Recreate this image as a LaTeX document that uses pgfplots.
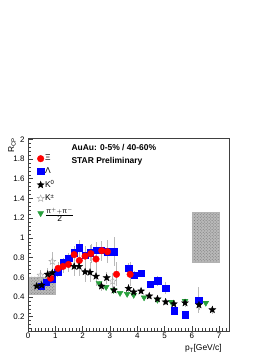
\documentclass[border=0pt]{standalone}
\usepackage{fontspec}
\setmainfont{Liberation Sans}
\usepackage{pgfplots}
\pgfplotsset{compat=1.18}
\usetikzlibrary{patterns}
\definecolor{rootgreen}{RGB}{40,160,60}
\definecolor{errgray}{RGB}{185,185,185}
\pgfdeclareplotmark{fstar}{%
  \pgfpathmoveto{\pgfpointpolar{90}{\pgfplotmarksize}}%
  \pgfpathlineto{\pgfpointpolar{126}{0.42\pgfplotmarksize}}%
  \pgfpathlineto{\pgfpointpolar{162}{\pgfplotmarksize}}%
  \pgfpathlineto{\pgfpointpolar{198}{0.42\pgfplotmarksize}}%
  \pgfpathlineto{\pgfpointpolar{234}{\pgfplotmarksize}}%
  \pgfpathlineto{\pgfpointpolar{270}{0.42\pgfplotmarksize}}%
  \pgfpathlineto{\pgfpointpolar{306}{\pgfplotmarksize}}%
  \pgfpathlineto{\pgfpointpolar{342}{0.42\pgfplotmarksize}}%
  \pgfpathlineto{\pgfpointpolar{18}{\pgfplotmarksize}}%
  \pgfpathlineto{\pgfpointpolar{54}{0.42\pgfplotmarksize}}%
  \pgfpathclose\pgfusepathqfillstroke}
\pgfdeclareplotmark{ostar}{%
  \pgfpathmoveto{\pgfpointpolar{90}{\pgfplotmarksize}}%
  \pgfpathlineto{\pgfpointpolar{126}{0.42\pgfplotmarksize}}%
  \pgfpathlineto{\pgfpointpolar{162}{\pgfplotmarksize}}%
  \pgfpathlineto{\pgfpointpolar{198}{0.42\pgfplotmarksize}}%
  \pgfpathlineto{\pgfpointpolar{234}{\pgfplotmarksize}}%
  \pgfpathlineto{\pgfpointpolar{270}{0.42\pgfplotmarksize}}%
  \pgfpathlineto{\pgfpointpolar{306}{\pgfplotmarksize}}%
  \pgfpathlineto{\pgfpointpolar{342}{0.42\pgfplotmarksize}}%
  \pgfpathlineto{\pgfpointpolar{18}{\pgfplotmarksize}}%
  \pgfpathlineto{\pgfpointpolar{54}{0.42\pgfplotmarksize}}%
  \pgfpathclose\pgfusepathqstroke}

\begin{document}
\begin{tikzpicture}
\useasboundingbox (0,0) rectangle (277bp,358bp);
\begin{axis}[
  at={(28bp,27bp)}, anchor=south west,
  scale only axis, width=201bp, height=193bp,
  xmin=0, xmax=7.36, ymin=0.055, ymax=2.013,
  xtick={0,1,2,3,4,5,6,7},
  ytick={0.2,0.4,0.6,0.8,1,1.2,1.4,1.6,1.8,2},
  minor xtick={0.125,0.25,...,7.3},
  minor ytick={0.08,0.12,...,2.0},
  tick align=inside, xtick pos=bottom, ytick pos=left,
  major tick length=5bp, minor tick length=2.5bp,
  axis line style={draw=black!75, line width=0.6pt},
  tick style={black!75, line width=0.5pt},
  ticklabel style={font=\fontsize{8}{9}\selectfont},
  xticklabel style={yshift=2bp},
  /pgf/number format/assume math mode=true,
  clip=false,
  legend style={at={(rel axis cs:0.045,0.918)}, anchor=north west, draw=none, fill=none,
    font=\fontsize{8.5}{9.5}\selectfont, row sep=3.5bp, inner sep=0pt,
    nodes={inner sep=1bp}},
  legend cell align=left,
  legend image code/.code={\draw plot coordinates {(0.12cm,0cm)};},
  error bars/error bar style={errgray, line width=0.6pt},
  error bars/error mark=none,
]
% legend images
\addlegendimage{only marks, mark=*, mark size=3.3bp, color=red}
\addlegendentry{Ξ}
\addlegendimage{only marks, mark=square*, mark size=3.1bp, color=blue}
\addlegendentry{Λ}
\addlegendimage{only marks, mark=fstar, mark size=3.6bp, color=black}
\addlegendentry{K\textsuperscript{0}}
\addlegendimage{only marks, mark=ostar, mark size=3.6bp, color=gray!70}
\addlegendentry{K\textsuperscript{±}}
\addlegendimage{only marks, mark=triangle*, mark options={rotate=180}, mark size=3.4bp, color=rootgreen}
\addlegendentry{\(\frac{\mbox{\fontsize{7}{8}\selectfont π}^{+}+\mbox{\fontsize{7}{8}\selectfont π}^{-}}{\mbox{2}}\)}

% systematic boxes
\addplot[forget plot, draw=gray!60, fill=gray!55, postaction={pattern=crosshatch dots, pattern color=gray!90!black}]
  coordinates {(0.04,0.43) (0.98,0.43) (0.98,0.605) (0.04,0.605)} -- cycle;
\addplot[forget plot, draw=gray!60, fill=gray!55, postaction={pattern=crosshatch dots, pattern color=gray!90!black}]
  coordinates {(6.0,0.75) (7.0,0.75) (7.0,1.26) (6.0,1.26)} -- cycle;

% K+- open stars
\addplot[forget plot, only marks, mark=ostar, mark size=3.6bp, color=gray!70,
  error bars/.cd, y dir=both, y explicit]
  table[x=x, y=y, y error=e] {
x y e
0.46 0.62 0.05
0.89 0.76 0.10
3.10 0.56 0.08
};

% Lambda
\addplot[forget plot, only marks, mark=square*, mark size=3.1bp, color=blue,
  error bars/.cd, y dir=both, y explicit]
  table[x=x, y=y, y error=e] {
x y e
0.48 0.51 0.03
0.68 0.55 0.03
0.88 0.58 0.04
1.09 0.65 0.05
1.28 0.75 0.05
1.49 0.79 0.06
1.69 0.85 0.07
1.88 0.90 0.08
2.09 0.82 0.08
2.28 0.85 0.08
2.49 0.875 0.08
2.69 0.875 0.09
2.89 0.86 0.10
3.16 0.86 0.15
3.69 0.69 0.05
3.90 0.62 0.04
4.14 0.64 0.03
4.46 0.53 0.03
4.75 0.565 0.05
5.04 0.49 0.06
5.35 0.26 0.04
5.75 0.22 0.03
6.25 0.37 0.13
};

% Xi
\addplot[forget plot, only marks, mark=*, mark size=3.3bp, color=red,
  error bars/.cd, y dir=both, y explicit]
  table[x=x, y=y, y error=e] {
x y e
0.83 0.59 0.05
1.10 0.69 0.06
1.28 0.71 0.07
1.48 0.73 0.08
1.69 0.83 0.08
1.88 0.77 0.10
2.09 0.815 0.10
2.30 0.84 0.10
2.49 0.785 0.10
2.70 0.87 0.10
2.91 0.86 0.12
3.24 0.63 0.12
3.74 0.63 0.12
};

% pions
\addplot[forget plot, only marks, mark=triangle*, mark options={rotate=180}, mark size=3.4bp, color=rootgreen,
  error bars/.cd, y dir=both, y explicit]
  table[x=x, y=y, y error=e] {
x y e
2.60 0.54 0.02
2.86 0.50 0.02
3.13 0.47 0.02
3.37 0.44 0.02
3.63 0.43 0.02
3.87 0.42 0.02
4.25 0.395 0.02
4.74 0.37 0.02
5.25 0.35 0.02
5.75 0.36 0.02
6.51 0.34 0.02
};

% K0 stars
\addplot[forget plot, only marks, mark=fstar, mark size=3.6bp, color=black,
  error bars/.cd, y dir=both, y explicit]
  table[x=x, y=y, y error=e] {
x y e
0.32 0.51 0.03
0.50 0.52 0.04
0.72 0.63 0.06
0.89 0.645 0.07
1.69 0.71 0.10
1.87 0.71 0.10
2.09 0.655 0.10
2.27 0.65 0.10
2.49 0.61 0.10
2.69 0.51 0.05
2.88 0.595 0.06
3.15 0.47 0.03
3.68 0.487 0.04
3.87 0.45 0.03
4.14 0.46 0.03
4.44 0.41 0.03
4.74 0.38 0.03
5.04 0.35 0.03
5.34 0.33 0.03
5.75 0.34 0.04
6.26 0.32 0.05
6.75 0.27 0.04
};

\node[anchor=base west, font=\bfseries\fontsize{8.5}{10}\selectfont]
  at ([xshift=40bp, yshift=-12.5bp]rel axis cs:0,1) {AuAu: 0-5\% / 40-60\%};
\node[anchor=base west, font=\bfseries\fontsize{8.5}{10}\selectfont]
  at ([xshift=40bp, yshift=-25.5bp]rel axis cs:0,1) {STAR Preliminary};
\node[rotate=90, anchor=east, font=\fontsize{8.5}{10}\selectfont, inner sep=0pt]
  at ([xshift=-16bp]rel axis cs:0,1) {R\raisebox{-0.35ex}{\fontsize{6}{7}\selectfont CP}};
\node[anchor=base east, font=\fontsize{8.5}{10}\selectfont, inner sep=0pt]
  at ([xshift=-7bp, yshift=-20bp]rel axis cs:1,0) {p\raisebox{-0.4ex}{\fontsize{6}{7}\selectfont T}[GeV/c]};
\end{axis}
\end{tikzpicture}
\end{document}
